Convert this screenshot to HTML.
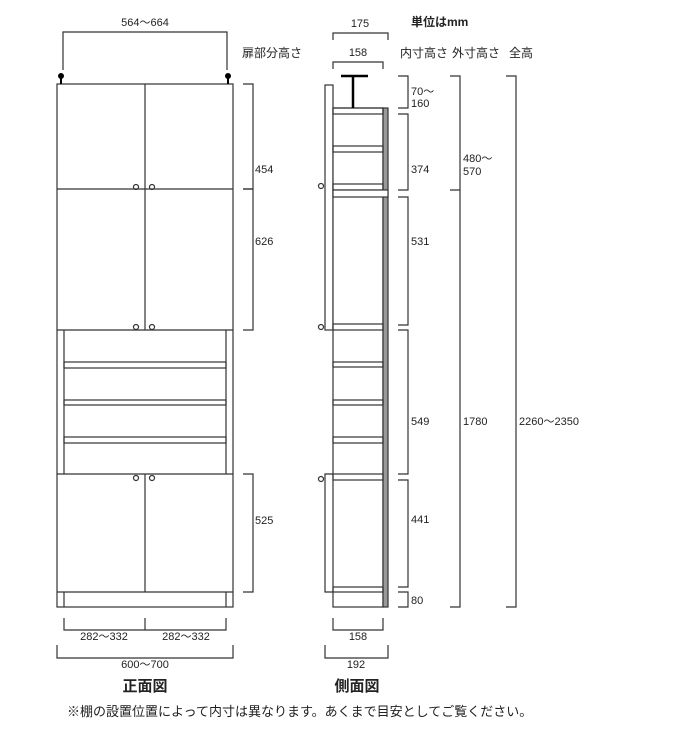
<!DOCTYPE html>
<html><head><meta charset="utf-8"><style>
html,body{margin:0;padding:0;background:#fff;}
svg{display:block;}
text{font-family:"Liberation Sans","Noto Sans CJK JP",sans-serif;font-size:11px;fill:#222;}
.j{font-size:12px;}
</style></head><body>
<svg width="700" height="737" viewBox="0 0 700 737" xmlns="http://www.w3.org/2000/svg">
<g fill="none" stroke="#333" stroke-width="1.2">
<path d="M63 70 V32 H227 V70"/>
<rect x="57" y="84" width="176" height="523" fill="#fff"/>
<line x1="145" y1="84" x2="145" y2="330"/>
<line x1="57" y1="189" x2="233" y2="189"/>
<line x1="57" y1="330" x2="233" y2="330"/>
<line x1="64" y1="330" x2="64" y2="474"/>
<line x1="226" y1="330" x2="226" y2="474"/>
<rect x="64" y="362" width="162" height="6"/>
<rect x="64" y="400" width="162" height="5"/>
<rect x="64" y="437" width="162" height="6"/>
<line x1="57" y1="474" x2="233" y2="474"/>
<line x1="145" y1="474" x2="145" y2="592"/>
<line x1="57" y1="592" x2="233" y2="592"/>
<line x1="64" y1="592" x2="64" y2="607"/>
<line x1="226" y1="592" x2="226" y2="607"/>
<circle cx="136" cy="187" r="2.5"/><circle cx="152" cy="187" r="2.5"/>
<circle cx="136" cy="327" r="2.5"/><circle cx="152" cy="327" r="2.5"/>
<circle cx="136" cy="478" r="2.5"/><circle cx="152" cy="478" r="2.5"/>
<path d="M243 84 H253 V189 H243"/>
<path d="M243 189 H253 V330 H243"/>
<path d="M243 474 H253 V592 H243"/>
<path d="M64 618 V630 H226 V618 M145 618 V630"/>
<path d="M57 645 V658 H233 V645"/>
<path d="M333 40 V33 H388 V40"/>
<path d="M333 69 V62 H383 V69"/>
<rect x="325" y="85" width="8" height="245" fill="#fff"/>
<path d="M333 474 H325 V592 H333"/>
<rect x="333" y="108" width="50" height="499" fill="#fff"/>
<rect x="383" y="108" width="5" height="499" fill="#999"/>
<rect x="333" y="108" width="50" height="6"/>
<rect x="333" y="146" width="50" height="6"/>
<rect x="333" y="184" width="50" height="6"/>
<rect x="333" y="190" width="55" height="7" fill="#fff"/>
<rect x="333" y="324" width="50" height="6"/>
<rect x="333" y="362" width="50" height="5"/>
<rect x="333" y="400" width="50" height="5"/>
<rect x="333" y="437" width="50" height="6"/>
<rect x="333" y="474" width="50" height="6"/>
<rect x="333" y="587" width="50" height="5"/>
<circle cx="321" cy="186" r="2.5"/><circle cx="321" cy="327" r="2.5"/><circle cx="321" cy="479" r="2.5"/>
<path d="M398 76 H408 V108 H398"/>
<path d="M398 114 H408 V190 H398"/>
<path d="M398 197 H408 V325 H398"/>
<path d="M398 330 H408 V474 H398"/>
<path d="M398 480 H408 V587 H398"/>
<path d="M398 592 H408 V607 H398"/>
<path d="M450 76 H460 V190 H450"/>
<path d="M460 190 V607 H450"/>
<path d="M506 76 H516 V607 H506"/>
<path d="M333 618 V630 H383 V618"/>
<path d="M325 645 V658 H388 V645"/>
</g>
<g fill="#000" stroke="#000">
<circle cx="61" cy="76" r="2.5"/><line x1="61" y1="76" x2="61" y2="84" stroke-width="2"/>
<circle cx="228" cy="76" r="2.5"/><line x1="228" y1="76" x2="228" y2="84" stroke-width="2"/>
<line x1="341" y1="76" x2="368" y2="76" stroke-width="2.5"/>
<line x1="353" y1="76" x2="353" y2="108" stroke-width="2.5"/>
</g>
<text x="145" y="26" text-anchor="middle">564～664</text>
<text x="272" y="57" text-anchor="middle" class="j">扉部分高さ</text>
<text x="255" y="173">454</text>
<text x="255" y="245">626</text>
<text x="255" y="524">525</text>
<text x="360" y="27" text-anchor="middle">175</text>
<text x="358" y="56" text-anchor="middle">158</text>
<text x="411" y="26" font-weight="bold" class="j">単位はmm</text>
<text x="400" y="57" class="j">内寸高さ</text>
<text x="452" y="57" class="j">外寸高さ</text>
<text x="509" y="57" class="j">全高</text>
<text x="411" y="95">70～</text>
<text x="411" y="107">160</text>
<text x="411" y="173">374</text>
<text x="411" y="245">531</text>
<text x="411" y="425">549</text>
<text x="411" y="523">441</text>
<text x="411" y="604">80</text>
<text x="463" y="162">480～</text>
<text x="463" y="175">570</text>
<text x="463" y="425">1780</text>
<text x="519" y="425">2260～2350</text>
<text x="104" y="640" text-anchor="middle">282～332</text>
<text x="186" y="640" text-anchor="middle">282～332</text>
<text x="145" y="668" text-anchor="middle">600～700</text>
<text x="358" y="640" text-anchor="middle">158</text>
<text x="356" y="668" text-anchor="middle">192</text>
<text x="145" y="691" text-anchor="middle" style="font-size:15px;font-weight:bold">正面図</text>
<text x="357" y="691" text-anchor="middle" style="font-size:15px;font-weight:bold">側面図</text>
<text x="67" y="716" style="font-size:13px">※棚の設置位置によって内寸は異なります。あくまで目安としてご覧ください。</text>
</svg>
</body></html>
